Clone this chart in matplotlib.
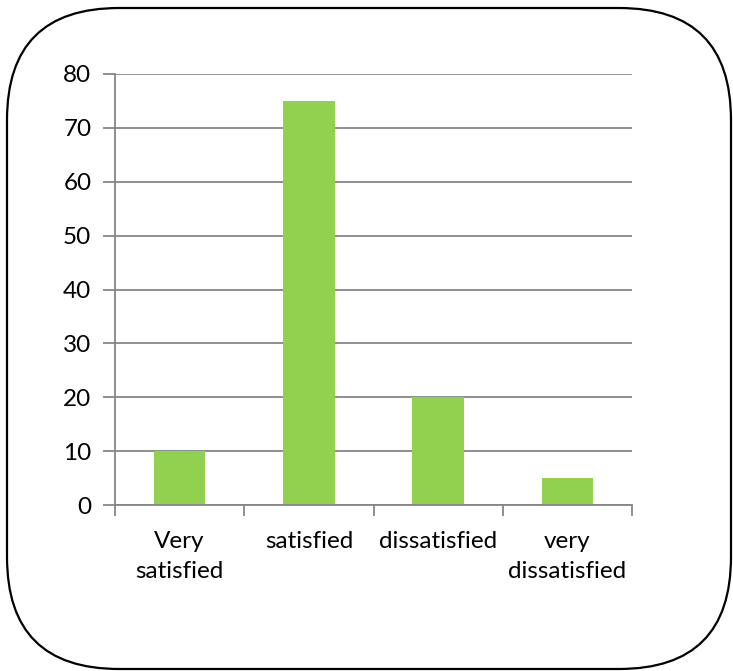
import matplotlib.pyplot as plt
from matplotlib.patches import FancyBboxPatch

categorias = ['Very\nsatisfied', 'satisfied', 'dissatisfied', 'very\ndissatisfied']
valores = [10, 75, 20, 5]
yticks = [0, 10, 20, 30, 40, 50, 60, 70, 80]

verde = '#92D050'
cinza = '#868686'

plt.rcParams['font.family'] = ['Lato', 'DejaVu Sans']

W, H = 733, 671
fig = plt.figure(figsize=(W / 100, H / 100), dpi=100)

# moldura arredondada, em coordenadas de pixel
fundo = fig.add_axes([0, 0, 1, 1], zorder=0)
fundo.set_xlim(0, W)
fundo.set_ylim(H, 0)
fundo.axis('off')
r = 112
caixa = FancyBboxPatch((7 + r, 8 + r), 724 - 2 * r, 661 - 2 * r,
                       boxstyle='round,pad=%d' % r, fc='white', ec='black', lw=1.6)
fundo.add_patch(caixa)

ax = fig.add_axes([115 / W, 1 - 505 / H, (632 - 115) / W, (505 - 74) / H], zorder=1)
ax.patch.set_alpha(0)
x = range(len(categorias))
ax.bar(x, valores, width=0.4, color=verde, zorder=2)

ax.set_xlim(-0.5, len(categorias) - 0.5)
ax.set_ylim(0, 80)
ax.set_yticks(yticks)
ax.yaxis.grid(True, color=cinza, lw=1.3, zorder=1)

ax.set_xticks([i - 0.5 for i in range(len(categorias) + 1)])
ax.set_xticklabels([])
ax.set_xticks(list(x), minor=True)
ax.set_xticklabels(categorias, minor=True, fontsize=17.5, linespacing=1.5)
ax.tick_params(axis='x', which='minor', length=0, pad=19)
ax.tick_params(axis='x', which='major', direction='out', length=8, width=1.3, color=cinza)
ax.tick_params(axis='y', direction='out', length=9, width=1.3, color=cinza, labelsize=17.5, pad=8)

for lado in ['top', 'right']:
    ax.spines[lado].set_visible(False)
for lado in ['left', 'bottom']:
    ax.spines[lado].set_color(cinza)
    ax.spines[lado].set_linewidth(1.3)

plt.savefig('out.png', dpi=100)
